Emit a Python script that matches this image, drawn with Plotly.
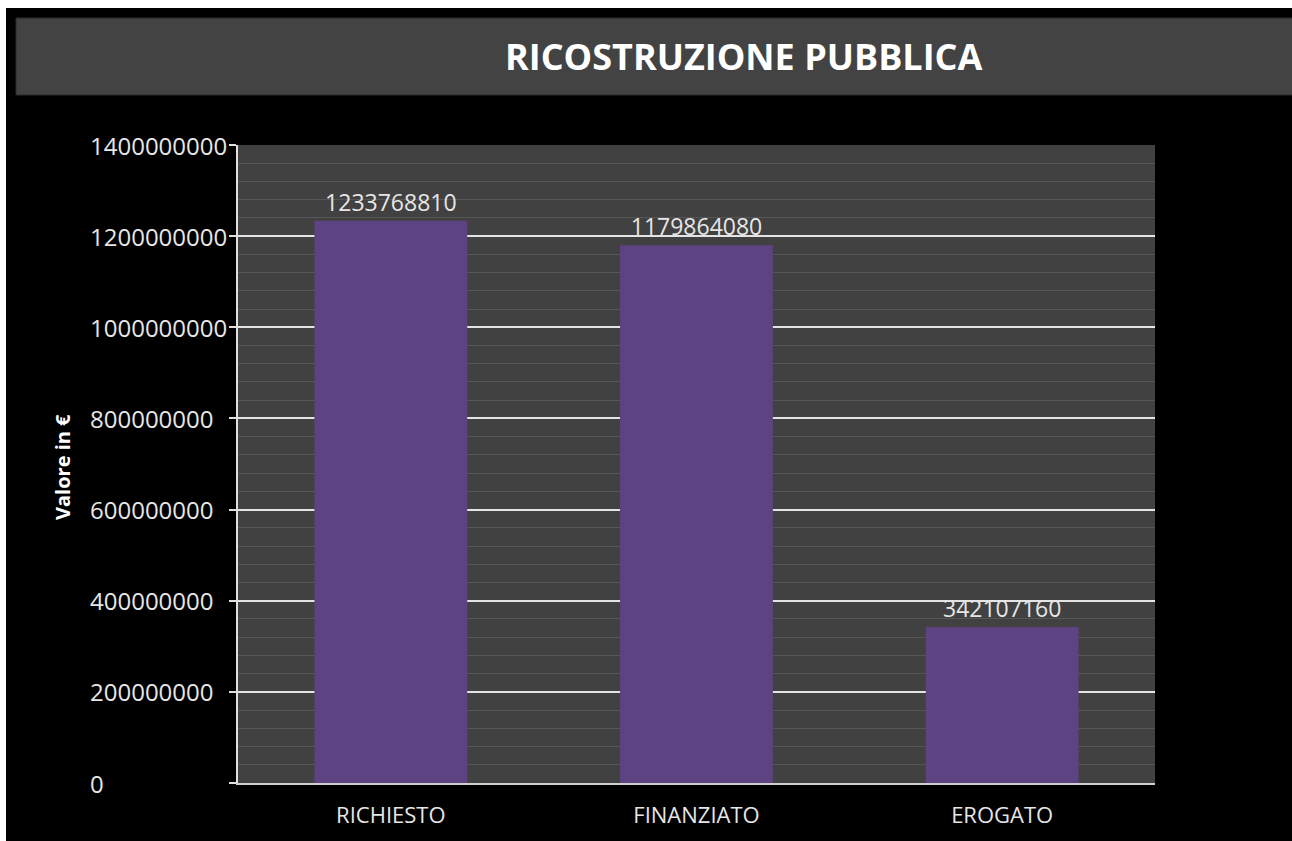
import plotly.graph_objects as go

categories = ["RICHIESTO", "FINANZIATO", "EROGATO"]
values = [1233768810, 1179864080, 342107160]
ytick_vals = [0, 200000000, 400000000, 600000000, 800000000, 1000000000, 1200000000, 1400000000]
ytick_text = [str(v) for v in ytick_vals]

W, H = 1292, 841
L, R, T, B = 238, 137, 145, 58
pw, ph = W - L - R, H - T - B

def px(x):
    return (x - L) / pw

def py(y):
    return (H - B - y) / ph

FONT = "Open Sans"

fig = go.Figure()
fig.add_trace(go.Bar(
    x=categories, y=values,
    marker=dict(color="#5e4382", line=dict(width=0)),
    width=0.5,
    text=[str(v) for v in values],
    textposition="outside",
    textfont=dict(family=FONT, size=23, color="#e6e6e6"),
    cliponaxis=False,
))

shapes = [
    dict(type="rect", xref="paper", yref="paper", x0=px(0), x1=px(W), y0=py(8), y1=py(0),
         fillcolor="white", line=dict(width=0), layer="below"),
    dict(type="rect", xref="paper", yref="paper", x0=px(0), x1=px(6), y0=py(H), y1=py(0),
         fillcolor="white", line=dict(width=0), layer="below"),
    dict(type="rect", xref="paper", yref="paper", x0=px(16), x1=px(W + 2), y0=py(95), y1=py(18),
         fillcolor="#434343", line=dict(width=1, color="#2a2a2a"), layer="below"),
]

annotations = [
    dict(text="<b>RICOSTRUZIONE PUBBLICA</b>", xref="paper", yref="paper",
         x=px(744), y=py(57), xanchor="center", yanchor="middle", showarrow=False,
         font=dict(family=FONT, size=36, color="white")),
    dict(text="<b>Valore in €</b>", xref="paper", yref="paper", textangle=-90,
         x=px(62), y=py(467), xanchor="center", yanchor="middle", showarrow=False,
         font=dict(family=FONT, size=20, color="white")),
]
for v, t in zip(ytick_vals, ytick_text):
    annotations.append(dict(text=t, xref="paper", yref="y", x=px(88), y=v,
                            xanchor="left", yanchor="middle", showarrow=False,
                            font=dict(family=FONT, size=24, color="#e6e6e6")))

fig.update_layout(
    width=W, height=H,
    margin=dict(l=L, r=R, t=T, b=B, pad=0),
    paper_bgcolor="black",
    plot_bgcolor="#414141",
    showlegend=False,
    shapes=shapes,
    annotations=annotations,
    xaxis=dict(showgrid=False, showline=True, linecolor="#d0d0d0", linewidth=2,
               tickfont=dict(family=FONT, size=22, color="#e6e6e6"), ticks="",
               ticklabelstandoff=12, range=[-0.5, 2.5]),
    yaxis=dict(range=[0, 1400000000], tickvals=ytick_vals, showticklabels=False,
               showgrid=True, gridcolor="#e4e4e4", gridwidth=2,
               zeroline=False,
               showline=True, linecolor="#e0e0e0", linewidth=2,
               ticks="outside", ticklen=7, tickcolor="#e0e0e0", tickwidth=2,
               minor=dict(dtick=40000000, showgrid=True, gridcolor="#565656", gridwidth=1, ticks=""),
               mirror=False),
)

fig.write_html("out.html")
